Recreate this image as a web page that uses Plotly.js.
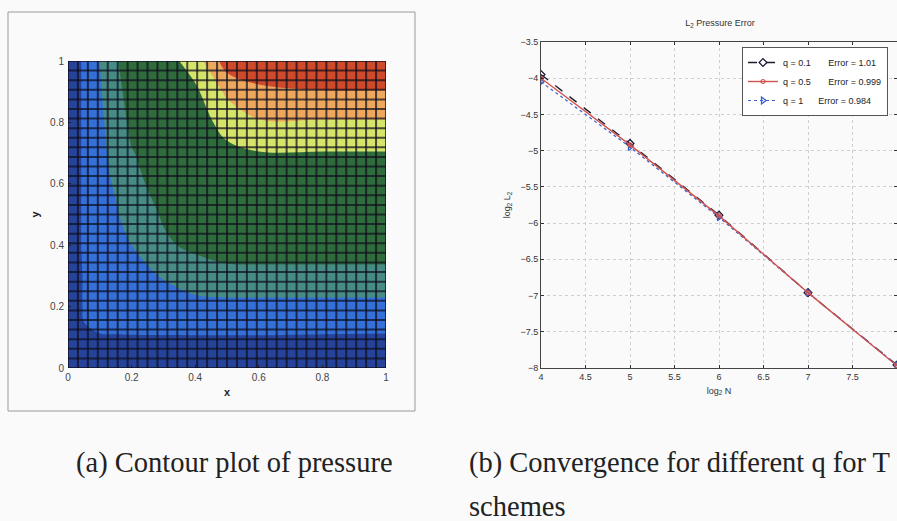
<!DOCTYPE html>
<html>
<head>
<meta charset="utf-8">
<script src="https://cdn.plot.ly/plotly-3.0.1.min.js"></script>
<style>html,body{margin:0;padding:0;background:#fafafa;}#chart{width:897px;height:521px;}</style>
</head>
<body>
<div id="chart"></div>
<script>
// ---- Left panel: pressure field (coarse samples) ----
const contourX = [0, 0.05, 0.1, 0.15, 0.2, 0.3, 0.4, 0.5, 0.6, 0.8, 1.0];
const contourY = [0, 0.1, 0.2, 0.3, 0.4, 0.5, 0.6, 0.7, 0.8, 0.9, 1.0];
const pressureRows = [
  [0.0, 0.0, 0.0, 0.0, 0.0, 0.0, 0.0, 0.0, 0.0, 0.0, 0.0],
  [0.0, 0.45, 0.45, 0.45, 0.45, 0.45, 0.45, 0.45, 0.45, 0.42, 0.4],
  [0.0, 0.55, 0.85, 0.95, 1.05, 1.15, 1.2, 1.2, 1.2, 1.2, 1.2],
  [0.0, 0.55, 0.9, 1.05, 1.25, 1.55, 2.0, 2.2, 2.2, 2.2, 2.2],
  [0.0, 0.6, 1.0, 1.2, 1.5, 2.35, 2.7, 2.95, 3.0, 3.0, 3.0],
  [0.0, 0.6, 1.1, 1.4, 1.9, 2.6, 3.0, 3.0, 3.0, 3.0, 3.0],
  [0.0, 0.6, 1.2, 1.6, 2.2, 2.9, 3.0, 3.0, 3.0, 3.0, 3.0],
  [0.0, 0.6, 1.25, 1.8, 2.45, 2.95, 3.0, 3.3, 3.45, 3.45, 3.45],
  [0.0, 0.6, 1.3, 2.0, 2.7, 3.0, 3.1, 3.8, 4.4, 4.4, 4.4],
  [0.0, 0.6, 1.4, 2.2, 2.9, 3.0, 3.3, 4.7, 5.35, 5.47, 5.47],
  [0.0, 0.6, 1.5, 2.4, 3.0, 3.0, 4.0, 6.0, 6.0, 6.0, 6.0]
];
const bandColors = ['#26439a', '#3570d8', '#468c84', '#2f6c3c', '#d6e46a', '#eea85e', '#cf4a2a'];
const meshCells = 32;
const unitTicks = [0, 0.2, 0.4, 0.6, 0.8, 1];

// ---- Right panel: convergence ----
const logN = [4, 5, 6, 7, 8];
const errQ01 = [-3.95, -4.90, -5.89, -6.96, -7.96];
const errQ05 = [-4.00, -4.92, -5.90, -6.96, -7.97];
const errQ1  = [-4.05, -4.95, -5.92, -6.96, -7.96];
const NB = '\u00a0';
const seriesNames = [
  'q = 0.1' + NB.repeat(7) + 'Error = 1.01',
  'q = 0.5' + NB.repeat(7) + 'Error = 0.999',
  'q = 1' + NB.repeat(6) + 'Error = 0.984'
];
const xTicksR = [4, 4.5, 5, 5.5, 6, 6.5, 7, 7.5, 8];
const yTicksR = [-3.5, -4, -4.5, -5, -5.5, -6, -6.5, -7, -7.5, -8];

const W = 897, H = 521;
const px = v => v / W;
const py = v => 1 - v / H;

// stepped colour scale: each band a flat colour
const cs = [];
bandColors.forEach((c, i) => {
  const lo = Math.max(0, (i - 0.5) / 6), hi = Math.min(1, (i + 0.5) / 6);
  cs.push([lo, c]); cs.push([hi, c]);
});

const traces = [
  {
    type: 'contour', x: contourX, y: contourY, z: pressureRows,
    xaxis: 'x', yaxis: 'y',
    zmin: 0, zmax: 6, autocontour: false,
    contours: {start: 0.5, end: 5.5, size: 1, coloring: 'fill', showlines: false},
    line: {width: 0}, colorscale: cs, showscale: false, showlegend: false, hoverinfo: 'skip'
  },
  {
    type: 'scatter', mode: 'lines+markers', x: logN, y: errQ01, name: seriesNames[0],
    xaxis: 'x2', yaxis: 'y2', legendrank: 1,
    line: {color: '#1c1c2c', width: 1.3, dash: 'dash'},
    marker: {symbol: 'diamond-open', size: 6, color: '#1c1c3c', line: {width: 1.3}}
  },
  {
    type: 'scatter', mode: 'lines+markers', x: logN, y: errQ1, name: seriesNames[2],
    xaxis: 'x2', yaxis: 'y2', legendrank: 3,
    line: {color: '#3a5fd0', width: 1.2, dash: 'dot'},
    marker: {symbol: 'triangle-right-open', size: 6, color: '#3a5fd0', line: {width: 1.3}}
  },
  {
    type: 'scatter', mode: 'lines+markers', x: logN, y: errQ05, name: seriesNames[1],
    xaxis: 'x2', yaxis: 'y2', legendrank: 2,
    line: {color: '#d2524c', width: 1.4},
    marker: {symbol: 'circle-open', size: 4, color: '#d2524c', line: {width: 1.2}}
  }
];

const shapes = [];
for (let i = 0; i <= meshCells; i++) {
  const t = i / meshCells;
  shapes.push({type: 'line', xref: 'x', yref: 'y', x0: t, x1: t, y0: 0, y1: 1, layer: 'above',
    line: {color: 'rgba(15,15,30,0.72)', width: 2}});
  shapes.push({type: 'line', xref: 'x', yref: 'y', x0: 0, x1: 1, y0: t, y1: t, layer: 'above',
    line: {color: 'rgba(15,15,30,0.72)', width: 2}});
}
// figure frame around left panel
shapes.push({type: 'rect', xref: 'paper', yref: 'paper', x0: px(8), x1: px(415), y0: py(411), y1: py(12),
  line: {color: '#9a9a9a', width: 1}, layer: 'below'});
// stray axis stub to the right of the left panel
shapes.push({type: 'line', xref: 'x', yref: 'y', x0: 1, x1: 1.092, y0: 0, y1: 0, line: {color: '#333', width: 1}});
shapes.push({type: 'line', xref: 'x', yref: 'paper', x0: 1.045, x1: 1.045, y0: py(368), y1: py(365), line: {color: '#333', width: 1}});

const tickFont = {family: 'Liberation Sans, Arial, sans-serif', size: 9, color: '#333'};
const leftTickFont = {family: 'Liberation Sans, Arial, sans-serif', size: 10, color: '#444'};
const captionFont = {family: 'Liberation Serif, Times New Roman, serif', size: 28.5, color: '#222'};

const layout = {
  width: W, height: H,
  margin: {l: 0, r: 0, t: 0, b: 0},
  paper_bgcolor: '#fafafa', plot_bgcolor: '#fafafa',
  showlegend: true,
  title: {text: 'L<sub>2</sub> Pressure Error', x: px(720), y: py(23), xanchor: 'center', yanchor: 'middle',
    font: {family: 'Liberation Sans, Arial, sans-serif', size: 9, color: '#333'}},
  xaxis: {
    domain: [px(68), px(386)], range: [0, 1], anchor: 'y',
    tickvals: unitTicks, ticktext: unitTicks.map(String), ticks: 'inside', ticklen: 3, tickcolor: '#222',
    showgrid: false, zeroline: false, showline: false, tickfont: leftTickFont, ticklabelstandoff: 2,
    title: {text: '<b>x</b>', standoff: 6, font: {family: 'Liberation Sans, Arial, sans-serif', size: 11, color: '#222'}}
  },
  yaxis: {
    domain: [py(368), py(61)], range: [0, 1], anchor: 'x',
    tickvals: unitTicks, ticktext: unitTicks.map(String), ticks: 'inside', ticklen: 3, tickcolor: '#222',
    showgrid: false, zeroline: false, showline: false, tickfont: leftTickFont, ticklabelstandoff: 3,
    title: {text: '<b>y</b>', standoff: 8, font: {family: 'Liberation Sans, Arial, sans-serif', size: 11, color: '#222'}}
  },
  xaxis2: {
    domain: [px(541), 1], range: [4, 8], anchor: 'y2',
    tickvals: xTicksR, ticks: 'inside', ticklen: 3, tickcolor: '#333',
    showgrid: true, gridcolor: '#cfcfcf', griddash: 'dot', gridwidth: 1,
    zeroline: false, showline: true, linecolor: '#444', linewidth: 1, mirror: 'ticks',
    tickfont: tickFont,
    title: {text: 'log<sub>2</sub> N', standoff: 6, font: {family: 'Liberation Sans, Arial, sans-serif', size: 9, color: '#333'}}
  },
  yaxis2: {
    domain: [py(368), py(42)], range: [-8, -3.5], anchor: 'x2',
    tickvals: yTicksR, ticktext: yTicksR.map(v => String(v).replace('-', '\u2212')), ticks: 'inside', ticklen: 3, tickcolor: '#333',
    showgrid: true, gridcolor: '#cfcfcf', griddash: 'dot', gridwidth: 1,
    zeroline: false, showline: true, linecolor: '#444', linewidth: 1, mirror: 'ticks',
    tickfont: tickFont,
    title: {text: 'log<sub>2</sub> L<sub>2</sub>', standoff: 8, font: {family: 'Liberation Sans, Arial, sans-serif', size: 9, color: '#333'}}
  },
  legend: {
    x: px(888), y: py(47), xanchor: 'right', yanchor: 'top',
    bgcolor: '#ffffff', bordercolor: '#555', borderwidth: 1,
    font: {family: 'Liberation Sans, Arial, sans-serif', size: 9, color: '#222'},
    itemwidth: 30, tracegroupgap: 0
  },
  shapes: shapes,
  annotations: [
    {text: '(a) Contour plot of pressure', xref: 'paper', yref: 'paper', x: px(74), y: py(463),
      xanchor: 'left', yanchor: 'middle', showarrow: false, font: captionFont},
    {text: '(b) Convergence for different q for T', xref: 'paper', yref: 'paper', x: px(467), y: py(463),
      xanchor: 'left', yanchor: 'middle', showarrow: false, font: captionFont},
    {text: 'schemes', xref: 'paper', yref: 'paper', x: px(467), y: py(506),
      xanchor: 'left', yanchor: 'middle', showarrow: false, font: captionFont}
  ]
};

Plotly.newPlot('chart', traces, layout, {staticPlot: true, displayModeBar: false});
</script>
</body>
</html>
